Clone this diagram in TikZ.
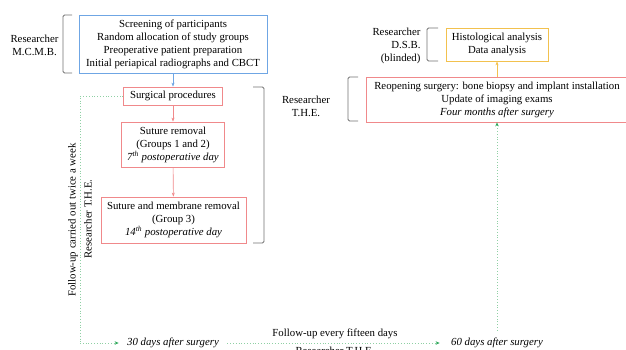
\documentclass[tikz,border=0pt]{standalone}
\usepackage{fontspec}
\setmainfont{Liberation Serif}
\usepackage{tikz}
\usetikzlibrary{arrows.meta, positioning, calc}
\definecolor{stBlue}{HTML}{6FA6E4}
\definecolor{stRed}{HTML}{F0898B}
\definecolor{stGold}{HTML}{F2C14E}
\definecolor{stGreen}{HTML}{8FD0A4}
\definecolor{stTip}{HTML}{2EA85A}
\definecolor{stGray}{HTML}{707070}

\begin{document}
\begin{tikzpicture}[x=1pt, y=-1pt,
  font=\fontsize{10.8}{13}\selectfont,
  box/.style={draw, line width=0.8pt, align=center, inner sep=3pt},
  flow/.style={-{Stealth[length=4pt,width=3pt]}, line width=0.6pt},
  fu/.style={stGreen, dotted, line width=0.8pt},
  futip/.style={fu, -{Stealth[length=4pt,width=3.5pt]}, arrows={[color=stTip]}},
  brace/.style={stGray, line width=0.8pt, rounded corners=1.5pt}]
  \useasboundingbox (0,0) rectangle (626,349);
  % etapy
  \node[box, draw=stBlue, minimum width=188, minimum height=58] (screen) at (173,44)
    {Screening of participants\\Random allocation of study groups\\Preoperative patient preparation\\Initial periapical radiographs and CBCT};
  \node[box, draw=stRed, minimum width=99, minimum height=18] (surg) at (173,96) {Surgical procedures};
  \node[box, draw=stRed, minimum width=103, minimum height=45] (sut) at (173,144.5)
    {Suture removal\\(Groups 1 and 2)\\\textit{7\textsuperscript{th} postoperative day}};
  \node[box, draw=stRed, minimum width=145, minimum height=46] (mem) at (173.5,220)
    {Suture and membrane removal\\(Group 3)\\\textit{14\textsuperscript{th} postoperative day}};
  \node[box, draw=stRed, minimum width=262, minimum height=45] (reop) at (497,99.5)
    {Reopening surgery: bone biopsy and implant installation\\Update of imaging exams\\\textit{Four months after surgery}};
  \node[box, draw=stGold, minimum width=102, minimum height=33] (hist) at (497,44.5)
    {Histological analysis\\Data analysis};
  % badacze
  \node[align=center] (mcmb) at (34.5,45) {Researcher\\M.C.M.B.};
  \node[align=center] (theA) at (306,106.5) {Researcher\\T.H.E.};
  \node[align=right, anchor=east] (dsb) at (424,45.5) {Researcher\\D.S.B.\\(blinded)};
  \node[rotate=90] (twice) at (73,220) {Follow-up carried out twice a week};
  \node[rotate=90] (theB) at (88,219) {Researcher T.H.E.};
  % kontrole
  \node[font=\fontsize{10.8}{13}\selectfont\itshape] (d30) at (173,343) {30 days after surgery};
  \node[font=\fontsize{10.8}{13}\selectfont\itshape] (d60) at (497,343) {60 days after surgery};
  \node (fifteen) at (335,334) {Follow-up every fifteen days};
  \node (theC) at (335,351) {Researcher T.H.E.};
  % nawiasy
  \draw[brace] (72,15)--(63,15)--(63,73)--(72,73);
  \draw[brace] (253,87)--(264,87)--(264,243)--(253,243);
  \draw[brace] (358,77)--(348,77)--(348,121)--(358,121);
  \draw[brace] (438,28)--(427,28)--(427,61)--(438,61);
  % strzalki
  \draw[flow, stBlue] (screen) -- (surg);
  \draw[flow, stRed] (surg) -- (sut);
  \draw[flow, stRed] (sut) -- (mem);
  \draw[flow, stGold] (reop) -- (hist);
  \coordinate (corner) at (80,343);
  \draw[fu] (surg.west) -| (corner);
  \draw[futip, shorten >=5pt] (corner) -- (d30.west);
  \draw[futip, shorten <=5pt, shorten >=8pt] (d30.east) -- (d60.west);
  \draw[futip, shorten <=4pt] (d60.north) -- (reop.south);
\end{tikzpicture}
\end{document}
